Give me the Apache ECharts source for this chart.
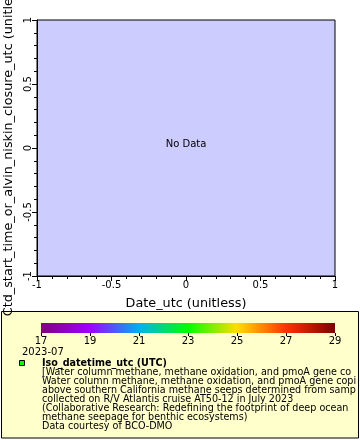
<!DOCTYPE html>
<html><head><meta charset="utf-8">
<script src="https://cdn.jsdelivr.net/npm/echarts@6/dist/echarts.min.js"></script>
<style>html,body{margin:0;padding:0;background:#fff}#c{width:360px;height:440px}</style>
</head><body><div id="c"></div>
<script>
const xTicks = [-1, -0.5, 0, 0.5, 1];
const yTicks = [-1, -0.5, 0, 0.5, 1];
const seriesData = []; // no data
const colorbarTicks = [17, 19, 21, 23, 25, 27, 29];
const colorbarColors = ['#7f007f', '#a000ff', '#00b0f0', '#00ff00', '#ffdd00', '#ff3300', '#7f0000'];
const xName = 'Date_utc (unitless)';
const yName = 'Ctd_start_time_or_alvin_niskin_closure_utc (unitless)';
const timeLabel = '2023-07';
const legendTitle = 'Iso_datetime_utc (UTC)';
const legendLines = [
  '[Water column methane, methane oxidation, and pmoA gene copies',
  'Water column methane, methane oxidation, and pmoA gene copies',
  'above southern California methane seeps determined from samples',
  'collected on R/V Atlantis cruise AT50-12 in July 2023',
  '(Collaborative Research: Redefining the footprint of deep ocean',
  'methane seepage for benthic ecosystems)',
  'Data courtesy of BCO-DMO'
];
const F = 'DejaVu Sans';
const chart = echarts.init(document.getElementById('c'), null, {renderer: 'canvas'});
const stops = colorbarColors.map((c, i) => ({offset: i / (colorbarColors.length - 1), color: c}));
const graphics = [
  {type: 'rect', z: -10, shape: {x: 1.5, y: 311.5, width: 357, height: 126.5}, style: {fill: '#ffffcc', stroke: '#000', lineWidth: 1}},
  {type: 'text', style: {x: 186, y: 144, text: 'No Data', font: '10px ' + F, fill: '#000', textAlign: 'center', textVerticalAlign: 'middle'}},
  {type: 'text', style: {x: 22, y: 352, text: timeLabel, font: '10px ' + F, fill: '#000', textVerticalAlign: 'middle'}},
  {type: 'rect', shape: {x: 19.5, y: 360.5, width: 5, height: 5}, style: {fill: '#00ff00', stroke: '#000', lineWidth: 1}},
  {type: 'text', style: {x: 42, y: 363, text: legendTitle, font: 'bold 9.6px ' + F, fill: '#000', textVerticalAlign: 'middle'}}
];
legendLines.forEach((t, i) => {
  graphics.push({type: 'text', style: {x: 42, y: 372 + i * 9.1, text: t, font: '9.6px ' + F, fill: '#000', textVerticalAlign: 'middle', width: 316, overflow: 'truncate', ellipsis: ''}});
});
chart.setOption({
  animation: false,
  textStyle: {fontFamily: F},
  grid: [
    {left: 37, right: 25, top: 20, bottom: 164, show: true, backgroundColor: '#ccccff', borderColor: '#000', borderWidth: 1, containLabel: false, outerBoundsMode: 'none'},
    {left: 41, right: 25, top: 323, height: 10, show: true, borderWidth: 0, containLabel: false, outerBoundsMode: 'none',
     backgroundColor: {type: 'linear', x: 0, y: 0, x2: 1, y2: 0, colorStops: stops}}
  ],
  xAxis: [
    {type: 'value', gridIndex: 0, min: xTicks[0], max: xTicks[xTicks.length - 1], interval: 0.5,
     name: xName, nameLocation: 'middle', nameGap: 21, nameTextStyle: {fontSize: 12.8, color: '#000', fontFamily: F},
     axisLine: {show: true, onZero: false, lineStyle: {color: '#000'}}, axisTick: {show: true, length: 5, lineStyle: {color: '#000'}},
     minorTick: {show: true, splitNumber: 5, length: 3, lineStyle: {color: '#000'}},
     splitLine: {show: false},
     axisLabel: {fontSize: 10, color: '#000', margin: 4, formatter: v => String(v), showMinLabel: true, showMaxLabel: true}},
    {type: 'value', gridIndex: 1, min: colorbarTicks[0], max: colorbarTicks[colorbarTicks.length - 1], interval: 2,
     axisLine: {show: false, onZero: false}, axisTick: {show: true, length: 3, lineStyle: {color: '#000'}},
     splitLine: {show: false},
     axisLabel: {fontSize: 10, color: '#000', margin: 3, showMinLabel: true, showMaxLabel: true}}
  ],
  yAxis: [
    {type: 'value', gridIndex: 0, min: yTicks[0], max: yTicks[yTicks.length - 1], interval: 0.5,
     name: yName, nameLocation: 'middle', nameGap: 19, nameRotate: 90, nameTextStyle: {fontSize: 12.8, color: '#000', fontFamily: F},
     axisLine: {show: true, onZero: false, lineStyle: {color: '#000'}}, axisTick: {show: true, length: 5, lineStyle: {color: '#000'}},
     minorTick: {show: true, splitNumber: 5, length: 3, lineStyle: {color: '#000'}},
     splitLine: {show: false},
     axisLabel: {fontSize: 10, color: '#000', rotate: 90, margin: 4, formatter: v => String(v), showMinLabel: true, showMaxLabel: true}},
    {type: 'value', gridIndex: 1, show: false, min: 0, max: 1}
  ],
  series: [
    {type: 'scatter', xAxisIndex: 0, yAxisIndex: 0, data: seriesData}
  ],
  graphic: graphics
});
</script></body></html>
